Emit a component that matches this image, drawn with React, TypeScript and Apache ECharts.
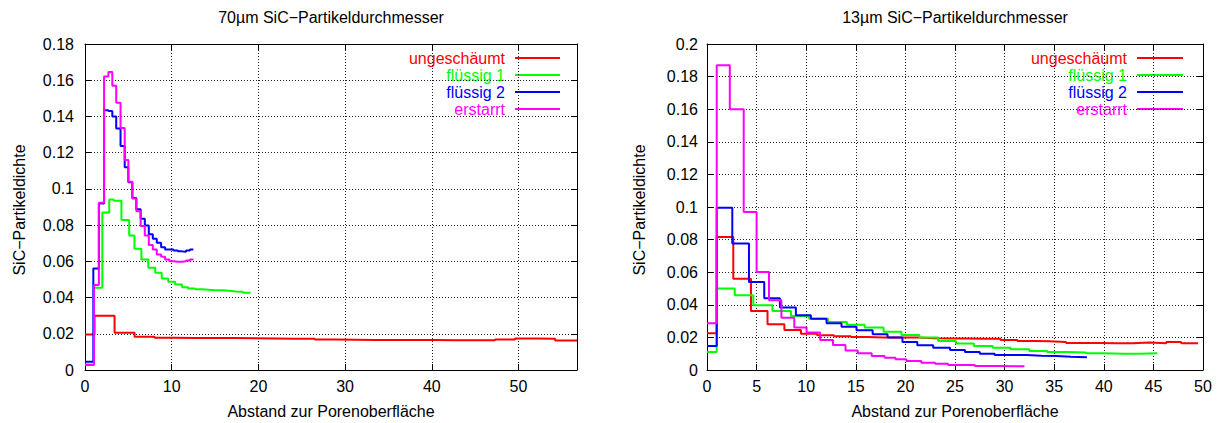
import React, { useEffect, useRef } from "react";
import * as echarts from "echarts";

const seriesNames = ["ungeschäumt", "flüssig 1", "flüssig 2", "erstarrt"];
const seriesColors = ["#ff0000", "#00ff00", "#0000ff", "#ff00ff"];

const leftTitle = "70µm SiC\u2212Partikeldurchmesser";
const rightTitle = "13µm SiC\u2212Partikeldurchmesser";
const xName = "Abstand zur Porenoberfläche";
const yName = "SiC\u2212Partikeldichte";

// ---- left chart (70 µm) : bin edges and step values ----
const leftRedX = [0, 1.1, 3.41, 5.72, 8.03, 10.34, 12.65, 14.96, 17.27, 19.58, 21.89, 24.2, 26.51, 28.82, 31.13, 33.44, 35.75, 38.06, 40.37, 42.68, 44.99, 47.3, 49.61, 51.92, 54.23, 56.75];
const leftRedY = [0.0196, 0.03, 0.0205, 0.0183, 0.0178, 0.0177, 0.0176, 0.0176, 0.0175, 0.0174, 0.0172, 0.0172, 0.0168, 0.0167, 0.0166, 0.0166, 0.0165, 0.0165, 0.0164, 0.0164, 0.0164, 0.0168, 0.0174, 0.0173, 0.0163];

const leftGreenX = [0, 1.04, 2.0, 2.8, 3.3, 4.2, 5.1, 5.7, 6.5, 7.3, 8.1, 8.85, 9.6, 10.4, 11.2, 11.9, 12.7, 13.5, 14.3, 15.0, 15.8, 16.6, 17.4, 18.2, 19.1];
const leftGreenY = [0.003, 0.0454, 0.0869, 0.0942, 0.0935, 0.0828, 0.0743, 0.067, 0.061, 0.0565, 0.0537, 0.0505, 0.0487, 0.0472, 0.0457, 0.045, 0.0446, 0.0443, 0.0441, 0.044, 0.0437, 0.0434, 0.0432, 0.0427];

const leftBlueX = [0, 0.96, 1.6, 2.2, 2.7, 3.15, 3.6, 4.1, 4.58, 5.0, 5.46, 5.92, 6.42, 6.9, 7.36, 7.82, 8.28, 8.78, 9.24, 9.74, 10.2, 10.7, 11.16, 11.66, 12.1, 12.5];
const leftBlueY = [0.0045, 0.056, 0.092, 0.1434, 0.143, 0.14, 0.1334, 0.1237, 0.112, 0.1037, 0.095, 0.0887, 0.0835, 0.0798, 0.0749, 0.0725, 0.0703, 0.0678, 0.0666, 0.0666, 0.066, 0.0655, 0.0653, 0.066, 0.0666];

const leftMagentaX = [0, 1.04, 1.6, 2.2, 2.7, 3.15, 3.6, 4.1, 4.58, 5.0, 5.46, 5.92, 6.42, 6.9, 7.36, 7.82, 8.28, 8.78, 9.24, 9.74, 10.2, 10.7, 11.16, 11.66, 12.1, 12.5];
const leftMagentaY = [0.0027, 0.047, 0.0924, 0.162, 0.1645, 0.157, 0.1476, 0.1336, 0.116, 0.104, 0.0947, 0.0877, 0.0795, 0.0743, 0.069, 0.0666, 0.0638, 0.0625, 0.061, 0.06, 0.0598, 0.0598, 0.06, 0.0605, 0.061];

// ---- right chart (13 µm) ----
const rightRedX = [0, 0.98, 2.65, 4.43, 6.1, 7.8, 9.47, 11.1, 12.8, 14.5, 16.2, 17.8, 19.5, 21.2, 22.9, 24.5, 26.2, 27.9, 29.6, 31.3, 32.9, 34.5, 36.2, 37.9, 39.6, 41.3, 42.9, 44.6, 46.3, 47.8, 49.5];
const rightRedY = [0.0225, 0.0816, 0.056, 0.0362, 0.028, 0.0245, 0.0223, 0.0213, 0.0207, 0.0202, 0.02, 0.0199, 0.0199, 0.0195, 0.0193, 0.0193, 0.0191, 0.0191, 0.0184, 0.0178, 0.0176, 0.0172, 0.0166, 0.0166, 0.0164, 0.0164, 0.0168, 0.0164, 0.0172, 0.0164];

const rightGreenX = [0, 0.98, 2.8, 4.67, 6.6, 8.46, 10.3, 12.2, 14.1, 15.9, 17.8, 19.6, 21.4, 23.3, 25.1, 26.9, 28.8, 30.6, 32.5, 34.3, 36.2, 38.2, 39.9, 41.9, 43.6, 45.4];
const rightGreenY = [0.011, 0.05, 0.0458, 0.0397, 0.0362, 0.0331, 0.0315, 0.0294, 0.0278, 0.026, 0.0235, 0.0215, 0.0199, 0.0178, 0.0162, 0.0147, 0.0137, 0.0127, 0.0117, 0.011, 0.0107, 0.0102, 0.01, 0.01, 0.0102];

const rightBlueX = [0, 0.98, 2.55, 4.23, 5.77, 7.35, 8.96, 10.47, 12.05, 13.56, 15.07, 16.7, 18.2, 19.7, 21.2, 22.8, 24.5, 26.0, 27.5, 29.0, 30.7, 32.2, 33.7, 35.2, 36.7, 38.3];
const rightBlueY = [0.0147, 0.0996, 0.0776, 0.054, 0.044, 0.0383, 0.0336, 0.0315, 0.0287, 0.0266, 0.0244, 0.0219, 0.0199, 0.0172, 0.0152, 0.0137, 0.0123, 0.011, 0.01, 0.0092, 0.0092, 0.0088, 0.0086, 0.0082, 0.0078];

const rightMagentaX = [0, 0.98, 2.3, 3.7, 5.0, 6.25, 7.5, 8.8, 10.04, 11.4, 12.7, 13.96, 15.2, 16.6, 17.9, 19.0, 20.1, 21.6, 23.0, 24.3, 25.6, 27.0, 29.0, 32.0];
const rightMagentaY = [0.0287, 0.187, 0.16, 0.0969, 0.0601, 0.0428, 0.0321, 0.026, 0.023, 0.0184, 0.0153, 0.012, 0.0102, 0.0086, 0.0075, 0.0066, 0.0055, 0.0045, 0.0039, 0.003, 0.003, 0.0024, 0.0023];

// axis ranges / ticks
const leftXMax = 56.75;
const leftXInterval = 10;
const leftYMax = 0.18;
const rightXMax = 50;
const rightXInterval = 5;
const rightYMax = 0.2;
const yInterval = 0.02;

const FONT = "'Liberation Sans', Arial, Helvetica, sans-serif";
const FS = 16;

function steps(edges: number[], values: number[]): number[][] {
  const pts: number[][] = [];
  for (let i = 0; i < values.length; i++) pts.push([edges[i], values[i]]);
  pts.push([edges[edges.length - 1], values[values.length - 1]]);
  return pts;
}

const gridLine = { show: true, lineStyle: { color: "#222", width: 1, type: [1, 2] as any } };
const axisLine = { show: true, onZero: false, lineStyle: { color: "#000", width: 1 } };
const tick = { show: true, inside: true, length: 6, lineStyle: { color: "#000", width: 1 } };

function xAxes(gridIndex: number, max: number, interval: number) {
  return [
    {
      type: "value", gridIndex, min: 0, max, interval, position: "bottom",
      axisLine, axisTick: tick, splitLine: gridLine,
      axisLabel: {
        show: true, color: "#000", fontSize: FS, fontFamily: FONT, margin: 8,
        formatter: (v: number) => (Math.abs(v / interval - Math.round(v / interval)) < 1e-6 ? String(Math.round(v)) : ""),
      },
    },
    {
      type: "value", gridIndex, min: 0, max, interval, position: "top",
      axisLine, axisTick: tick, splitLine: { show: false }, axisLabel: { show: false },
    },
  ];
}

function yAxes(gridIndex: number, max: number, margin: number) {
  return [
    {
      type: "value", gridIndex, min: 0, max, interval: yInterval, position: "left",
      axisLine, axisTick: tick, splitLine: gridLine,
      axisLabel: { show: true, color: "#000", fontSize: FS, fontFamily: FONT, margin },
    },
    {
      type: "value", gridIndex, min: 0, max, interval: yInterval, position: "right",
      axisLine, axisTick: tick, splitLine: { show: false }, axisLabel: { show: false },
    },
  ];
}

function lineSeries(name: string, color: string, xIdx: number, yIdx: number, edges: number[], values: number[]) {
  return {
    type: "line", name, step: "end", xAxisIndex: xIdx, yAxisIndex: yIdx,
    data: steps(edges, values), symbol: "none", showSymbol: false,
    lineStyle: { color, width: 2 }, itemStyle: { color }, silent: true,
  };
}

function legendGraphics(textRight: number, lineX1: number, lineX2: number, top: number, gap: number) {
  const els: any[] = [];
  seriesNames.forEach((n, i) => {
    const y = top + i * gap;
    els.push({
      type: "text", x: textRight, y,
      style: { text: n, fill: seriesColors[i], font: `${FS}px ${FONT}`, textAlign: "right", textVerticalAlign: "middle" },
    });
    els.push({
      type: "line", shape: { x1: lineX1, y1: y, x2: lineX2, y2: y },
      style: { stroke: seriesColors[i], lineWidth: 2 },
    });
  });
  return els;
}

function textEl(text: string, x: number, y: number, rotation = 0) {
  return {
    type: "text", x, y, rotation,
    style: { text, fill: "#000", font: `${FS}px ${FONT}`, textAlign: "center", textVerticalAlign: "middle" },
  };
}

export default function App() {
  const ref = useRef<HTMLDivElement>(null);
  useEffect(() => {
    if (!ref.current) return;
    const chart = echarts.init(ref.current, undefined, { renderer: "svg" });
    const option: any = {
      animation: false,
      backgroundColor: "#fff",
      grid: [
        { left: 85, top: 44, width: 492, height: 326 },
        { left: 707, top: 44, width: 496, height: 326 },
      ],
      xAxis: [...xAxes(0, leftXMax, leftXInterval), ...xAxes(1, rightXMax, rightXInterval)],
      yAxis: [...yAxes(0, leftYMax, 11), ...yAxes(1, rightYMax, 9)],
      series: [
        lineSeries(seriesNames[0], seriesColors[0], 0, 0, leftRedX, leftRedY),
        lineSeries(seriesNames[1], seriesColors[1], 0, 0, leftGreenX, leftGreenY),
        lineSeries(seriesNames[2], seriesColors[2], 0, 0, leftBlueX, leftBlueY),
        lineSeries(seriesNames[3], seriesColors[3], 0, 0, leftMagentaX, leftMagentaY),
        lineSeries(seriesNames[0], seriesColors[0], 2, 2, rightRedX, rightRedY),
        lineSeries(seriesNames[1], seriesColors[1], 2, 2, rightGreenX, rightGreenY),
        lineSeries(seriesNames[2], seriesColors[2], 2, 2, rightBlueX, rightBlueY),
        lineSeries(seriesNames[3], seriesColors[3], 2, 2, rightMagentaX, rightMagentaY),
      ],
      graphic: [
        textEl(leftTitle, 331, 17),
        textEl(rightTitle, 955, 17),
        textEl(xName, 331, 411),
        textEl(xName, 955, 411),
        textEl(yName, 19, 210, Math.PI / 2),
        textEl(yName, 639, 210, Math.PI / 2),
        ...legendGraphics(505, 515, 560, 58, 17),
        ...legendGraphics(1127, 1137, 1183, 58, 17),
      ],
    };
    chart.setOption(option);
    return () => chart.dispose();
  }, []);
  return <div ref={ref} style={{ position: "absolute", left: 0, top: 0, width: 1217, height: 423 }} />;
}
